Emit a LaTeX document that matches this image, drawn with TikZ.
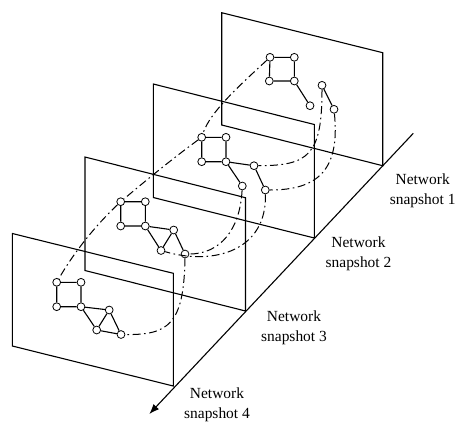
\documentclass[tikz,border=0pt]{standalone}
\usepackage{fontspec}
\setmainfont{Liberation Serif}
\usetikzlibrary{arrows.meta}

\tikzset{
  frame/.style={line width=1.1bp, line join=miter},
  traj/.style={line width=1bp, dash pattern=on 8bp off 3.5bp on 1.6bp off 3.5bp},
  vtx/.style={circle, draw, fill=white, line width=0.8bp, minimum size=7.8bp, inner sep=0pt},
  link/.style={line width=1.1bp},
  lbl/.style={align=center, font=\fontsize{15.5}{20}\selectfont, inner sep=0pt}
}

\begin{document}
\begin{tikzpicture}[x=1bp, y=-1bp]
\useasboundingbox (0,0) rectangle (455,425);

% snapshot planes, back to front
\draw[frame] (221.7,12.7) -- (382.7,52.7) -- (382.7,165.7) -- (221.7,125) -- cycle;
\draw[frame] (153.3,84) -- (314.3,124.5) -- (314.3,238) -- (153.3,197.5) -- cycle;
\draw[frame] (85,157) -- (245.5,197.7) -- (245.5,311) -- (85,270.5) -- cycle;
\draw[frame] (12.3,233.5) -- (173.3,273.3) -- (173.3,386) -- (12.3,346) -- cycle;

% time axis
\coordinate (axtop) at (413.3,133.3);
\coordinate (axtip) at (149.3,414);
\draw[frame, -{Latex[length=10bp,width=7.5bp]}] (axtop) -- (axtip);

% snapshot 1
\node[vtx] (p1a) at (270,57.3) {};
\node[vtx] (p1b) at (294.3,57.3) {};
\node[vtx] (p1c) at (269.3,81) {};
\node[vtx] (p1d) at (294.3,81) {};
\node[vtx] (p1e) at (310,105.7) {};
\node[vtx] (p1f) at (322,85.3) {};
\node[vtx] (p1g) at (334,109.3) {};
\draw[link] (p1a) -- (p1b) (p1a) -- (p1c) (p1b) -- (p1d) (p1c) -- (p1d)
            (p1d) -- (p1e) (p1f) -- (p1g);

% snapshot 2
\node[vtx] (p2a) at (201.7,137.3) {};
\node[vtx] (p2b) at (226,137.3) {};
\node[vtx] (p2c) at (201.7,161.7) {};
\node[vtx] (p2d) at (226,161.7) {};
\node[vtx] (p2e) at (242.3,186) {};
\node[vtx] (p2f) at (254,165.7) {};
\node[vtx] (p2g) at (265.3,190) {};
\draw[link] (p2a) -- (p2b) (p2a) -- (p2c) (p2b) -- (p2d) (p2c) -- (p2d)
            (p2d) -- (p2e) (p2d) -- (p2f) (p2f) -- (p2g);

% snapshot 3
\node[vtx] (p3a) at (120.7,201.7) {};
\node[vtx] (p3b) at (145.3,201.7) {};
\node[vtx] (p3c) at (120.7,226) {};
\node[vtx] (p3d) at (145.3,226) {};
\node[vtx] (p3e) at (173.7,230) {};
\node[vtx] (p3f) at (161,250.5) {};
\node[vtx] (p3g) at (185,254) {};
\draw[link] (p3a) -- (p3b) (p3a) -- (p3c) (p3b) -- (p3d) (p3c) -- (p3d)
            (p3d) -- (p3e) (p3d) -- (p3f) (p3f) -- (p3e) (p3e) -- (p3g);

% snapshot 4
\node[vtx] (p4a) at (56.7,282.3) {};
\node[vtx] (p4b) at (81,282.3) {};
\node[vtx] (p4c) at (56.7,306.7) {};
\node[vtx] (p4d) at (81,306.7) {};
\node[vtx] (p4e) at (109.2,310) {};
\node[vtx] (p4f) at (96.7,330) {};
\node[vtx] (p4g) at (121,334.5) {};
\draw[link] (p4a) -- (p4b) (p4a) -- (p4c) (p4b) -- (p4d) (p4c) -- (p4d)
            (p4d) -- (p4e) (p4d) -- (p4f) (p4f) -- (p4e) (p4e) -- (p4g) (p4f) -- (p4g);

% node trajectories between snapshots
\draw[traj] (p1a) .. controls (240,85) and (210,112) .. (p2a);
\draw[traj] (p2a) .. controls (174,157.5) and (147,179.5) .. (p3a);
\draw[traj] (p3a) .. controls (95.5,225.5) and (74,252.3) .. (p4a);
\draw[traj] (p1f) .. controls (322,155) and (309,165.7) .. (p2f);
\draw[traj] (p1g) .. controls (340,170) and (318,190) .. (p2g);
\draw[traj] (p2e) .. controls (240,230) and (220,254) .. (p3g);
\draw[traj] (p2g) .. controls (267,250) and (215,266) .. (p3f);
\draw[traj] (p3g) .. controls (184,325) and (168,335) .. (p4g);

% snapshot labels
\node[lbl] (lbl1) at (422.7,191) {Network\\snapshot 1};
\node[lbl] (lbl2) at (358.5,254) {Network\\snapshot 2};
\node[lbl] (lbl3) at (294,328) {Network\\snapshot 3};
\node[lbl] (lbl4) at (217,405) {Network\\snapshot 4};
\end{tikzpicture}
\end{document}
